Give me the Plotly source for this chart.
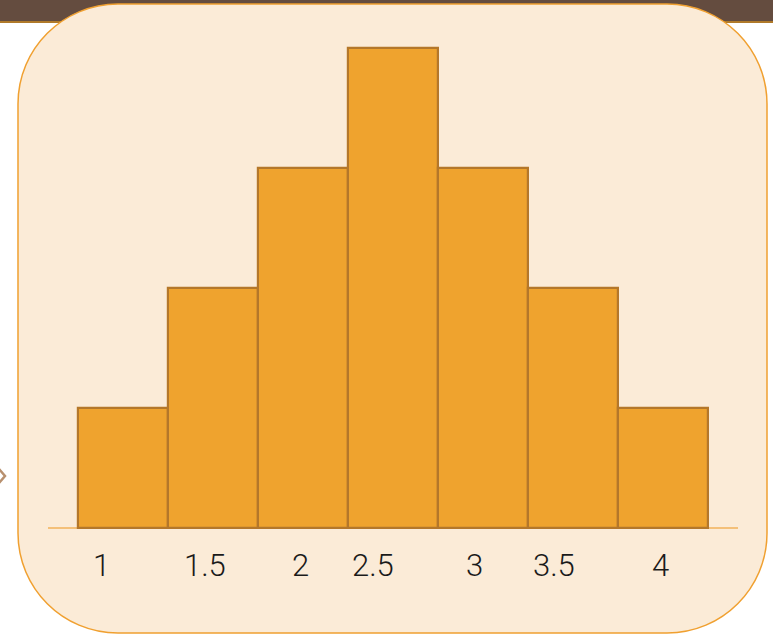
import plotly.graph_objects as go

# ---- data ----
bar_index = [0, 1, 2, 3, 4, 5, 6]
bar_values = [1, 2, 3, 4, 3, 2, 1]
tick_labels = ["1", "1.5", "2", "2.5", "3", "3.5", "4"]
tick_positions = [-0.244, 0.911, 1.967, 2.778, 3.911, 4.789, 5.967]

W, H = 773, 636

def px(x):
    return x / W

def py(y):
    return 1 - y / H

def rounded_rect(x0, y0, x1, y1, r):
    k = 0.5523 * r
    pts = [
        f"M {px(x0 + r)},{py(y0)}",
        f"L {px(x1 - r)},{py(y0)}",
        f"C {px(x1 - r + k)},{py(y0)} {px(x1)},{py(y0 + r - k)} {px(x1)},{py(y0 + r)}",
        f"L {px(x1)},{py(y1 - r)}",
        f"C {px(x1)},{py(y1 - r + k)} {px(x1 - r + k)},{py(y1)} {px(x1 - r)},{py(y1)}",
        f"L {px(x0 + r)},{py(y1)}",
        f"C {px(x0 + r - k)},{py(y1)} {px(x0)},{py(y1 - r + k)} {px(x0)},{py(y1 - r)}",
        f"L {px(x0)},{py(y0 + r)}",
        f"C {px(x0)},{py(y0 + r - k)} {px(x0 + r - k)},{py(y0)} {px(x0 + r)},{py(y0)}",
        "Z",
    ]
    return " ".join(pts)

fig = go.Figure()
fig.add_trace(go.Bar(
    x=bar_index, y=bar_values, width=1,
    marker=dict(color="#EFA32E", line=dict(color="#B4772A", width=2.2)),
    hoverinfo="skip",
))

shapes = [
    # top brown band
    dict(type="rect", xref="paper", yref="paper", x0=0, x1=1, y0=py(23), y1=1,
         fillcolor="#644C3F", line=dict(width=0), layer="below"),
    dict(type="line", xref="paper", yref="paper", x0=0, x1=1, y0=py(22), y1=py(22),
         line=dict(color="#B07A2A", width=2), layer="below"),
    # rounded panel
    dict(type="path", xref="paper", yref="paper", path=rounded_rect(18, 4, 767, 633, 100),
         fillcolor="#FBEBD7", line=dict(color="#F0A030", width=1.5), layer="below"),
    # baseline
    dict(type="line", xref="paper", yref="y", x0=px(48), x1=px(738), y0=0, y1=0,
         line=dict(color="#F2B25A", width=1.5), layer="below"),
    # little chevron at left edge
    dict(type="path", xref="paper", yref="paper",
         path=f"M {px(-1)},{py(469)} L {px(5)},{py(476)} L {px(-1)},{py(483)}",
         line=dict(color="#B8906E", width=2.5)),
]

annotations = [
    dict(x=xv, y=-0.31, xref="x", yref="y", text=t, showarrow=False,
         font=dict(family="Roboto, sans-serif", size=31, color="#1A1A1A", weight=300),
         xanchor="center", yanchor="middle")
    for xv, t in zip(tick_positions, tick_labels)
]

fig.update_layout(
    width=W, height=H,
    margin=dict(l=0, r=0, t=0, b=0),
    paper_bgcolor="white", plot_bgcolor="rgba(0,0,0,0)",
    showlegend=False,
    xaxis=dict(range=[-123 / 90, (W - 123) / 90], visible=False, fixedrange=True),
    yaxis=dict(range=[-(H - 528) / 120, 528 / 120], visible=False, fixedrange=True),
    shapes=shapes,
    annotations=annotations,
    bargap=0,
)

fig.write_html(
    "out.html",
    config={"displayModeBar": False},
    post_script="document.body.style.margin='0';document.body.style.overflow='hidden';",
)
